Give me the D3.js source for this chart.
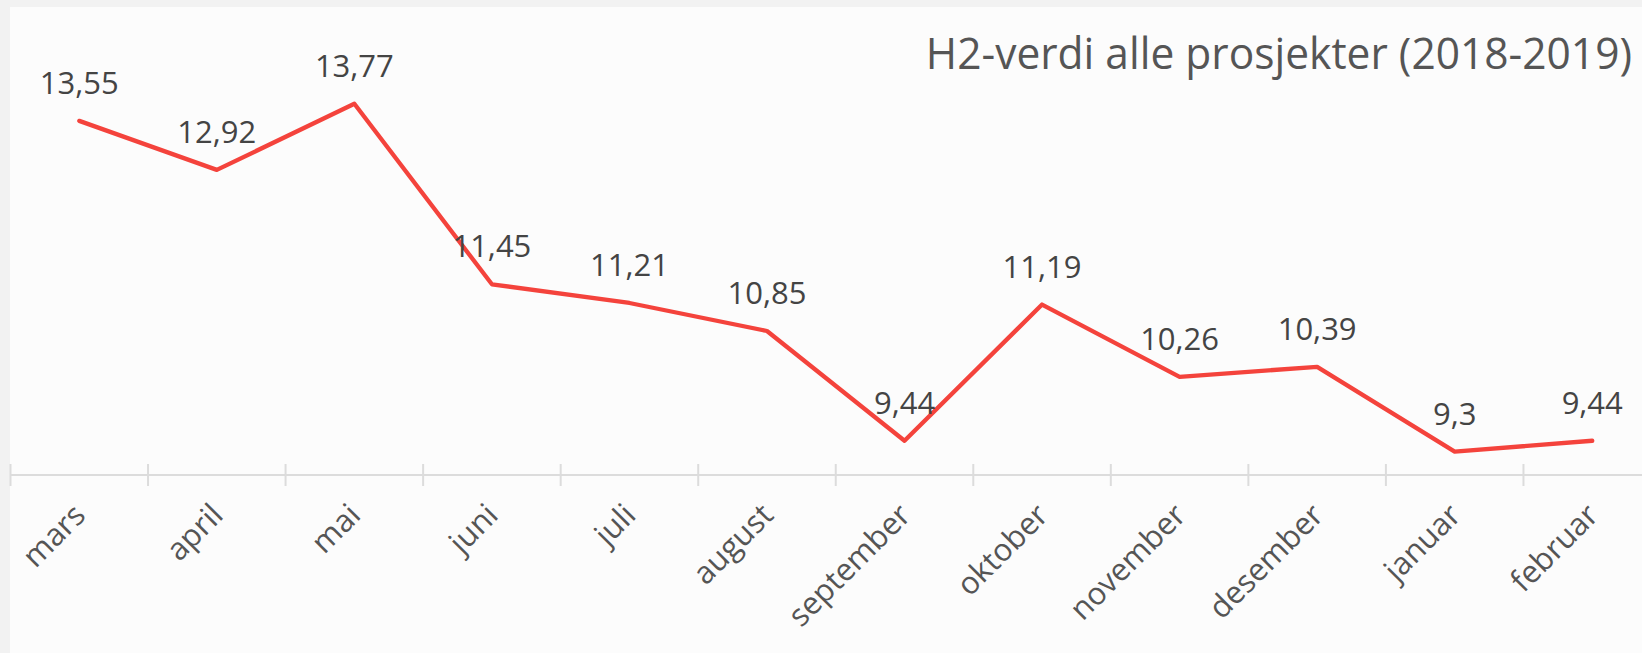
<!DOCTYPE html>
<html>
<head>
<meta charset="utf-8">
<script src="https://cdn.jsdelivr.net/npm/d3@7"></script>
<style>
  html, body { margin: 0; padding: 0; background: #f2f2f2; overflow: hidden; }
  svg { display: block; font-family: "Open Sans", sans-serif; }
</style>
</head>
<body>
<svg id="chart" width="1642" height="653"></svg>
<script>
(function(){
    'use strict';
    // chart data
    var months = ['mars', 'april', 'mai', 'juni', 'juli', 'august', 'september', 'oktober', 'november', 'desember', 'januar', 'februar'];
    var h2Values = [13.55, 12.92, 13.77, 11.45, 11.21, 10.85, 9.44, 11.19, 10.26, 10.39, 9.3, 9.44];
    var titleText = 'H2-verdi alle prosjekter (2018-2019)';

    var W = 1642, H = 653,
        axisY = 475,
        svg = d3.select('#chart');

    /* panel */
    svg.append('rect').attr('x', 10).attr('y', 7).attr('width', W - 10).attr('height', H - 7).attr('fill', '#fcfcfc');

    var x = d3.scaleBand().domain(months).range([10.5, 1661]).padding(0);
    var y = d3.scaleLinear().domain([9, 15]).range([axisY, 8]);

    // axis line + ticks at band edges
    var axis = svg.append('g').attr('class', 'axis');
    axis.append('line')
        .attr('x1', 10).attr('x2', W)
        .attr('y1', axisY).attr('y2', axisY)
        .attr('stroke', '#dcdcdc').attr('stroke-width', 2);
    axis.selectAll('line.tick').data(months).enter().append('line')
        .attr('class', 'tick')
        .attr('x1', function(d) { return x(d); })
        .attr('x2', function(d) { return x(d); })
        .attr('y1', axisY - 11).attr('y2', axisY + 11)
        .attr('stroke', '#dcdcdc').attr('stroke-width', 2);

    axis.selectAll('text').data(months).enter().append('text')
        .attr('text-anchor', 'end')
        .attr('font-size', 31)
        .attr('fill', '#555')
        .attr('transform', function(d) {
            var cx = x(d) + x.bandwidth() / 2;
            return 'translate(' + (cx + 8) + ',' + (axisY + 42) + ') rotate(-45)';
        })
        .text(function(d) { return d; });

    // line
    var line = d3.line()
        .x(function(d, i) { return x(months[i]) + x.bandwidth() / 2; })
        .y(function(d) { return y(d); });

    svg.append('path')
        .datum(h2Values)
        .attr('d', line)
        .attr('fill', 'none')
        .attr('stroke', '#f4433c')
        .attr('stroke-width', 4.3)
        .attr('stroke-linecap', 'round')
        .attr('stroke-linejoin', 'round');

    // value labels
    svg.selectAll('text.val').data(h2Values).enter().append('text')
        .attr('class', 'val')
        .attr('text-anchor', 'middle')
        .attr('font-size', 31)
        .attr('fill', '#444')
        .attr('x', function(d, i) { return x(months[i]) + x.bandwidth() / 2; })
        .attr('y', function(d) { return y(d) - 27; })
        .text(function(d) { return String(d).replace('.', ','); });

    // title (slightly condensed like the original)
    svg.append('text')
        .attr('transform', 'translate(1632,69) scale(0.966,1)')
        .attr('text-anchor', 'end')
        .attr('font-size', 44)
        .attr('fill', '#555')
        .text(titleText);
}());
</script>
</body>
</html>
